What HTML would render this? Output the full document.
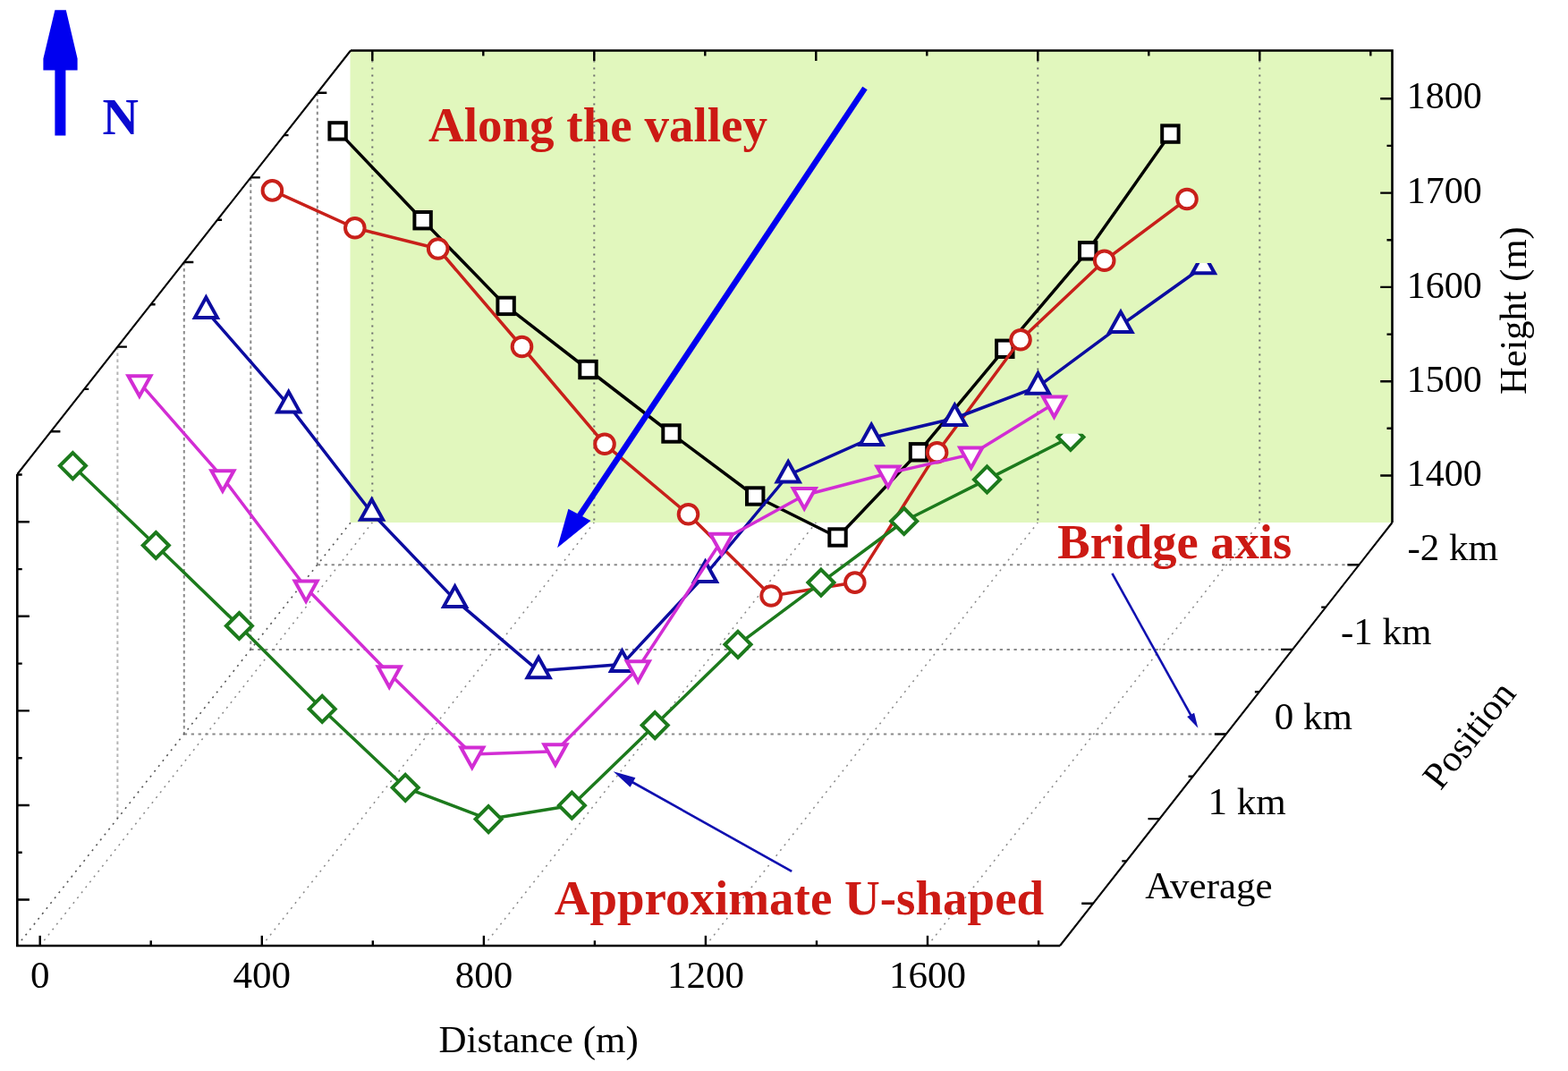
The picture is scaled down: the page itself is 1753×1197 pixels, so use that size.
<!DOCTYPE html>
<html><head><meta charset="utf-8"><title>Valley profile</title>
<style>html,body{margin:0;padding:0;background:#fff;overflow:hidden}svg{display:block}</style></head>
<body><svg width="1753" height="1197" viewBox="0 0 1753 1197">
<rect width="1753" height="1197" fill="#fff"/>
<rect x="391.5" y="56.5" width="1165.0" height="527.5" fill="#e1f7bd"/>
<line x1="416.3" y1="59.5" x2="416.3" y2="584.0" stroke="#6e6e6e" stroke-width="2" stroke-dasharray="2 6"/>
<line x1="664.3" y1="59.5" x2="664.3" y2="584.0" stroke="#6e6e6e" stroke-width="2" stroke-dasharray="2 6"/>
<line x1="1160.3" y1="59.5" x2="1160.3" y2="584.0" stroke="#6e6e6e" stroke-width="2" stroke-dasharray="2 6"/>
<line x1="1408.3" y1="59.5" x2="1408.3" y2="584.0" stroke="#6e6e6e" stroke-width="2" stroke-dasharray="2 6"/>
<line x1="354.8" y1="103.8" x2="354.8" y2="631.3" stroke="#8a8a8a" stroke-width="2" stroke-dasharray="3.5 3.5"/>
<line x1="280.3" y1="198.4" x2="280.3" y2="725.9" stroke="#8a8a8a" stroke-width="2" stroke-dasharray="3.5 3.5"/>
<line x1="205.8" y1="293.0" x2="205.8" y2="820.5" stroke="#8a8a8a" stroke-width="2" stroke-dasharray="3.5 3.5"/>
<line x1="131.4" y1="387.6" x2="131.4" y2="915.1" stroke="#b4b4b4" stroke-width="2" stroke-dasharray="3.5 3.5"/>
<line x1="354.8" y1="631.3" x2="1519.4" y2="631.3" stroke="#8a8a8a" stroke-width="2" stroke-dasharray="3.3 4.6"/>
<line x1="280.3" y1="725.9" x2="1445.0" y2="725.9" stroke="#8a8a8a" stroke-width="2" stroke-dasharray="3.3 4.6"/>
<line x1="205.8" y1="820.5" x2="1370.8" y2="820.5" stroke="#8a8a8a" stroke-width="2" stroke-dasharray="3.3 4.6"/>
<line x1="19.3" y1="1057.0" x2="392.0" y2="584.0" stroke="#555" stroke-width="1.6" stroke-dasharray="2 5.5"/>
<line x1="44.7" y1="1057.0" x2="416.3" y2="584.0" stroke="#8a8a8a" stroke-width="1.5" stroke-dasharray="2 5.5"/>
<line x1="292.8" y1="1057.0" x2="664.3" y2="584.0" stroke="#8a8a8a" stroke-width="1.5" stroke-dasharray="2 5.5"/>
<line x1="540.9" y1="1057.0" x2="912.3" y2="584.0" stroke="#8a8a8a" stroke-width="1.5" stroke-dasharray="2 5.5"/>
<line x1="788.9" y1="1057.0" x2="1160.3" y2="584.0" stroke="#8a8a8a" stroke-width="1.5" stroke-dasharray="2 5.5"/>
<line x1="1037.0" y1="1057.0" x2="1408.3" y2="584.0" stroke="#8a8a8a" stroke-width="1.5" stroke-dasharray="2 5.5"/>
<polyline points="19.3,530.0 19.3,1057.0 1185.0,1057.0" stroke="#000" stroke-width="2.6" fill="none" stroke-linejoin="miter"/>
<polyline points="1556.5,584.0 1556.5,56.5 392.0,56.5" stroke="#000" stroke-width="2.6" fill="none" stroke-linejoin="miter"/>
<path d="M1185.0,1057.0L1556.5,584.0M392.0,56.5L19.3,530.0" stroke="#000" stroke-width="2.1" fill="none"/>
<path d="M416.3,56.5v11.5 M540.3,56.5v6 M664.3,56.5v11.5 M788.3,56.5v6 M912.3,56.5v11.5 M1036.3,56.5v6 M1160.3,56.5v11.5 M1284.3,56.5v6 M1408.3,56.5v11.5 M1532.3,56.5v6 M44.7,1057.0v-11.3 M168.7,1057.0v-5.8 M292.8,1057.0v-11.3 M416.8,1057.0v-5.8 M540.9,1057.0v-11.3 M664.9,1057.0v-5.8 M788.9,1057.0v-11.3 M913.0,1057.0v-5.8 M1037.0,1057.0v-11.3 M1161.1,1057.0v-5.8 M1556.5,531.5h-13.3 M1556.5,478.8h-6 M1556.5,426.2h-13.3 M1556.5,373.6h-6 M1556.5,320.9h-13.3 M1556.5,268.2h-6 M1556.5,215.6h-13.3 M1556.5,162.9h-6 M1556.5,110.3h-13.3 M19.3,1005.5h13.6 M19.3,952.7h5.4 M19.3,900.0h13.6 M19.3,847.2h5.4 M19.3,794.4h13.6 M19.3,741.6h5.4 M19.3,688.8h13.6 M19.3,636.1h5.4 M19.3,583.3h13.6 M19.3,530.5h5.4 M354.8,103.8h10.5 M317.5,151.1h5 M280.3,198.4h10.5 M243.1,245.7h5 M205.8,293.0h10.5 M168.6,340.3h5 M131.4,387.6h10.5 M94.2,434.9h5 M56.9,482.2h10.5 M1519.4,631.3h-13 M1482.2,678.6h-5 M1445.0,725.9h-13 M1407.9,773.2h-5 M1370.8,820.5h-13 M1333.6,867.8h-5 M1296.5,915.1h-13 M1259.3,962.4h-5 M1222.2,1009.7h-13" stroke="#000" stroke-width="2.4"/>
<defs><clipPath id="cb"><rect x="0" y="294.1" width="1753" height="900"/></clipPath><clipPath id="cg"><rect x="0" y="484.8" width="1753" height="900"/></clipPath></defs>
<polyline points="377.6,146.4 472.6,246.2 565.6,341.9 657.5,413.0 750.5,484.5 844.2,554.5 936.5,600.5 1027.0,505.3 1123.3,389.8 1216.2,280.3 1308.4,149.6" fill="none" stroke="#000000" stroke-width="3.5" stroke-linejoin="round"/>
<g fill="#fff" stroke="#000000" stroke-width="4.0"><rect x="368.4" y="137.2" width="18.4" height="18.4"/><rect x="463.4" y="237.0" width="18.4" height="18.4"/><rect x="556.4" y="332.7" width="18.4" height="18.4"/><rect x="648.3" y="403.8" width="18.4" height="18.4"/><rect x="741.3" y="475.3" width="18.4" height="18.4"/><rect x="835.0" y="545.3" width="18.4" height="18.4"/><rect x="927.3" y="591.3" width="18.4" height="18.4"/><rect x="1017.8" y="496.1" width="18.4" height="18.4"/><rect x="1114.1" y="380.6" width="18.4" height="18.4"/><rect x="1207.0" y="271.1" width="18.4" height="18.4"/><rect x="1299.2" y="140.4" width="18.4" height="18.4"/></g>
<polyline points="304.4,212.9 396.8,254.8 489.7,278.0 583.5,387.5 676.0,496.3 769.5,574.8 862.1,666.0 955.8,651.1 1047.6,505.8 1141.0,379.8 1234.7,291.3 1327.0,222.5" fill="none" stroke="#c8201a" stroke-width="3.5" stroke-linejoin="round"/>
<g fill="#fff" stroke="#c8201a" stroke-width="4.0"><circle cx="304.4" cy="212.9" r="10.8"/><circle cx="396.8" cy="254.8" r="10.8"/><circle cx="489.7" cy="278.0" r="10.8"/><circle cx="583.5" cy="387.5" r="10.8"/><circle cx="676.0" cy="496.3" r="10.8"/><circle cx="769.5" cy="574.8" r="10.8"/><circle cx="862.1" cy="666.0" r="10.8"/><circle cx="955.8" cy="651.1" r="10.8"/><circle cx="1047.6" cy="505.8" r="10.8"/><circle cx="1141.0" cy="379.8" r="10.8"/><circle cx="1234.7" cy="291.3" r="10.8"/><circle cx="1327.0" cy="222.5" r="10.8"/></g>
<polyline points="230.4,347.4 322.7,452.9 415.6,573.3 508.6,670.4 602.1,749.8 695.5,742.4 788.5,642.5 881.2,531.0 974.2,489.5 1067.3,467.5 1160.5,432.2 1253.0,363.6 1345.4,297.8" fill="none" stroke="#0c0ca0" stroke-width="3.5" stroke-linejoin="round"/>
<g fill="#fff" stroke="#0c0ca0" stroke-width="4.0"><path d="M230.4,332.4L242.9,354.9L217.9,354.9Z"/><path d="M322.7,437.9L335.2,460.4L310.2,460.4Z"/><path d="M415.6,558.3L428.1,580.8L403.1,580.8Z"/><path d="M508.6,655.4L521.1,677.9L496.1,677.9Z"/><path d="M602.1,734.8L614.6,757.3L589.6,757.3Z"/><path d="M695.5,727.4L708.0,749.9L683.0,749.9Z"/><path d="M788.5,627.5L801.0,650.0L776.0,650.0Z"/><path d="M881.2,516.0L893.7,538.5L868.7,538.5Z"/><path d="M974.2,474.5L986.7,497.0L961.7,497.0Z"/><path d="M1067.3,452.5L1079.8,475.0L1054.8,475.0Z"/><path d="M1160.5,417.2L1173.0,439.7L1148.0,439.7Z"/><path d="M1253.0,348.6L1265.5,371.1L1240.5,371.1Z"/><g clip-path="url(#cb)"><path d="M1345.4,282.8L1357.9,305.3L1332.9,305.3Z"/></g></g>
<polyline points="155.9,427.7 248.9,533.7 342.1,657.0 435.2,752.8 527.8,843.0 620.9,839.8 713.3,746.8 806.7,604.3 899.2,553.5 992.9,529.0 1085.7,507.9 1178.5,450.9" fill="none" stroke="#d22dd4" stroke-width="3.5" stroke-linejoin="round"/>
<g fill="#fff" stroke="#d22dd4" stroke-width="4.0"><path d="M143.4,420.2L168.4,420.2L155.9,442.7Z"/><path d="M236.4,526.2L261.4,526.2L248.9,548.7Z"/><path d="M329.6,649.5L354.6,649.5L342.1,672.0Z"/><path d="M422.7,745.3L447.7,745.3L435.2,767.8Z"/><path d="M515.3,835.5L540.3,835.5L527.8,858.0Z"/><path d="M608.4,832.3L633.4,832.3L620.9,854.8Z"/><path d="M700.8,739.3L725.8,739.3L713.3,761.8Z"/><path d="M794.2,596.8L819.2,596.8L806.7,619.3Z"/><path d="M886.7,546.0L911.7,546.0L899.2,568.5Z"/><path d="M980.4,521.5L1005.4,521.5L992.9,544.0Z"/><path d="M1073.2,500.4L1098.2,500.4L1085.7,522.9Z"/><path d="M1166.0,443.4L1191.0,443.4L1178.5,465.9Z"/></g>
<polyline points="81.4,520.6 174.3,609.5 267.4,699.5 360.2,792.4 453.2,880.3 546.1,915.6 639.4,900.2 732.2,810.6 825.0,720.3 917.9,651.1 1010.7,582.5 1103.5,535.9 1196.9,488.5" fill="none" stroke="#1c7a1c" stroke-width="3.5" stroke-linejoin="round"/>
<g fill="#fff" stroke="#1c7a1c" stroke-width="4.0"><path d="M81.4,506.1L95.9,520.6L81.4,535.1L66.9,520.6Z"/><path d="M174.3,595.0L188.8,609.5L174.3,624.0L159.8,609.5Z"/><path d="M267.4,685.0L281.9,699.5L267.4,714.0L252.9,699.5Z"/><path d="M360.2,777.9L374.7,792.4L360.2,806.9L345.7,792.4Z"/><path d="M453.2,865.8L467.7,880.3L453.2,894.8L438.7,880.3Z"/><path d="M546.1,901.1L560.6,915.6L546.1,930.1L531.6,915.6Z"/><path d="M639.4,885.7L653.9,900.2L639.4,914.7L624.9,900.2Z"/><path d="M732.2,796.1L746.7,810.6L732.2,825.1L717.7,810.6Z"/><path d="M825.0,705.8L839.5,720.3L825.0,734.8L810.5,720.3Z"/><path d="M917.9,636.6L932.4,651.1L917.9,665.6L903.4,651.1Z"/><path d="M1010.7,568.0L1025.2,582.5L1010.7,597.0L996.2,582.5Z"/><path d="M1103.5,521.4L1118.0,535.9L1103.5,550.4L1089.0,535.9Z"/><g clip-path="url(#cg)"><path d="M1196.9,474.0L1211.4,488.5L1196.9,503.0L1182.4,488.5Z"/></g></g>
<line x1="967" y1="98.5" x2="644" y2="582" stroke="#0000f0" stroke-width="6.5"/>
<polygon points="623.1,612.2 635.4,568.7 660.5,582.1" fill="#0000f0"/>
<line x1="1243.4" y1="640.9" x2="1332.1" y2="800.7" stroke="#1010b0" stroke-width="2.6"/><polygon points="1339.4,813.8 1327.2,801.1 1335.1,796.8" fill="#1010b0"/>
<line x1="885.2" y1="973.9" x2="705.8" y2="873.5" stroke="#1010b0" stroke-width="2.7"/><polygon points="685.7,862.3 710.4,869.3 704.6,879.7" fill="#1010b0"/>
<polygon points="61.4,11.3 73.8,11.3 86.6,65.5 86.6,78.5 73.4,78.5 73.4,151.6 61.4,151.6 61.4,78.5 48.4,78.5 48.4,65.5" fill="#0000f0"/>
<text x="114.5" y="149.6" font-family="Liberation Serif, serif" font-size="56" font-weight="bold" fill="#0a0ad0" text-anchor="start" >N</text>
<text x="479" y="157.7" font-family="Liberation Serif, serif" font-size="55" font-weight="bold" fill="#cc1a14" text-anchor="start" >Along the valley</text>
<text x="1182.3" y="624.4" font-family="Liberation Serif, serif" font-size="54.5" font-weight="bold" fill="#cc1a14" text-anchor="start" >Bridge axis</text>
<text x="619.7" y="1021.5" font-family="Liberation Serif, serif" font-size="55" font-weight="bold" fill="#cc1a14" text-anchor="start" >Approximate U-shaped</text>
<text x="44.7" y="1104.3" font-family="Liberation Serif, serif" font-size="43" font-weight="normal" fill="#000" text-anchor="middle" >0</text>
<text x="292.8" y="1104.3" font-family="Liberation Serif, serif" font-size="43" font-weight="normal" fill="#000" text-anchor="middle" >400</text>
<text x="540.9" y="1104.3" font-family="Liberation Serif, serif" font-size="43" font-weight="normal" fill="#000" text-anchor="middle" >800</text>
<text x="788.9" y="1104.3" font-family="Liberation Serif, serif" font-size="43" font-weight="normal" fill="#000" text-anchor="middle" >1200</text>
<text x="1037.0" y="1104.3" font-family="Liberation Serif, serif" font-size="43" font-weight="normal" fill="#000" text-anchor="middle" >1600</text>
<text x="490.5" y="1175.9" font-family="Liberation Serif, serif" font-size="43" font-weight="normal" fill="#000" text-anchor="start" >Distance (m)</text>
<text x="1572.7" y="120.8" font-family="Liberation Serif, serif" font-size="42" font-weight="normal" fill="#000" text-anchor="start" >1800</text>
<text x="1572.7" y="227.10000000000002" font-family="Liberation Serif, serif" font-size="42" font-weight="normal" fill="#000" text-anchor="start" >1700</text>
<text x="1572.7" y="332.8" font-family="Liberation Serif, serif" font-size="42" font-weight="normal" fill="#000" text-anchor="start" >1600</text>
<text x="1572.7" y="438.1" font-family="Liberation Serif, serif" font-size="42" font-weight="normal" fill="#000" text-anchor="start" >1500</text>
<text x="1572.7" y="543.4" font-family="Liberation Serif, serif" font-size="42" font-weight="normal" fill="#000" text-anchor="start" >1400</text>
<text x="1573.4" y="625.8" font-family="Liberation Serif, serif" font-size="43" font-weight="normal" fill="#000" text-anchor="start" >-2 km</text>
<text x="1499.0" y="720.4" font-family="Liberation Serif, serif" font-size="43" font-weight="normal" fill="#000" text-anchor="start" >-1 km</text>
<text x="1424.8" y="815.0" font-family="Liberation Serif, serif" font-size="43" font-weight="normal" fill="#000" text-anchor="start" >0 km</text>
<text x="1350.5" y="909.6" font-family="Liberation Serif, serif" font-size="43" font-weight="normal" fill="#000" text-anchor="start" >1 km</text>
<text x="1280.2" y="1004.2" font-family="Liberation Serif, serif" font-size="43" font-weight="normal" fill="#000" text-anchor="start" >Average</text>
<text x="0" y="0" font-family="Liberation Serif, serif" font-size="42.5" font-weight="normal" fill="#000" text-anchor="start" transform="translate(1706,441) rotate(-90)">Height (m)</text>
<text x="0" y="0" font-family="Liberation Serif, serif" font-size="42.3" font-weight="normal" fill="#000" text-anchor="start" transform="translate(1610.5,884.5) rotate(-51.8)">Position</text>
</svg></body></html>
